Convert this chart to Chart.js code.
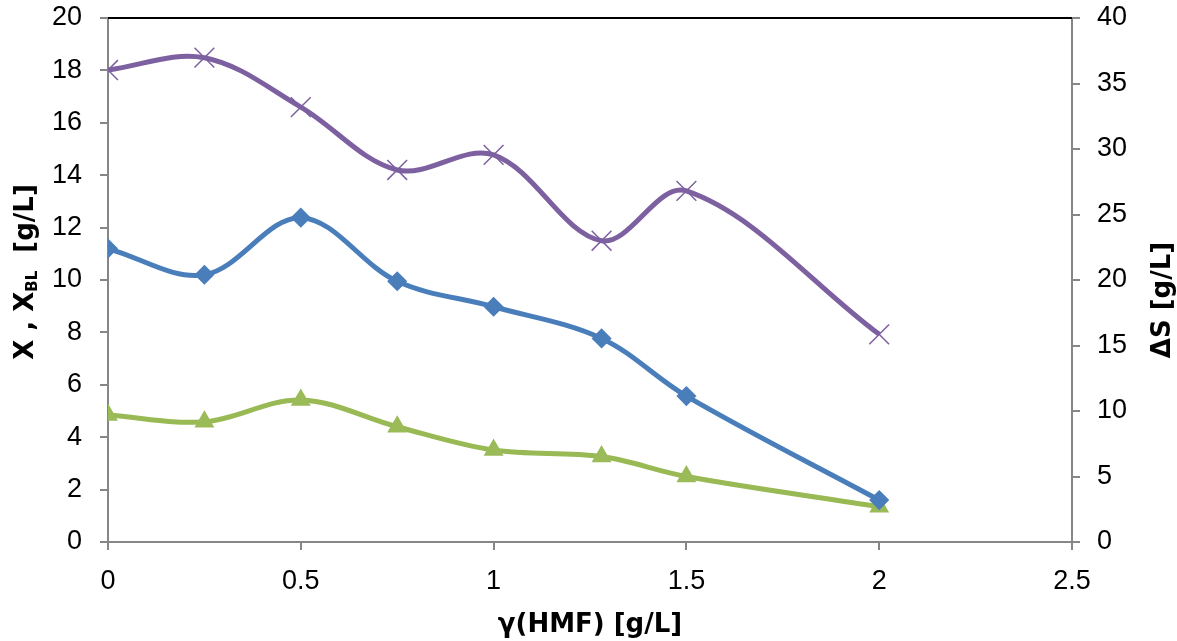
<!DOCTYPE html>
<html>
<head>
<meta charset="utf-8">
<script src="https://cdn.jsdelivr.net/npm/chart.js@4.4.1/dist/chart.umd.min.js"></script>
<style>
  html, body { margin: 0; padding: 0; background: #ffffff; }
  #wrap { width: 1177px; height: 641px; position: relative; }
</style>
</head>
<body>
<div id="wrap"><canvas id="c"></canvas></div>
<script>
// ---- data ----
const hmf = [0, 0.25, 0.5, 0.75, 1, 1.28, 1.5, 2];
const X = [11.2, 10.2, 12.38, 9.95, 8.98, 7.77, 5.57, 1.6];
const XBL = [4.85, 4.59, 5.42, 4.4, 3.51, 3.26, 2.5, 1.35];
const dS = [36.03, 36.97, 33.2, 28.4, 29.55, 23.0, 26.8, 15.85];
const leftTicks = [0, 2, 4, 6, 8, 10, 12, 14, 16, 18, 20];
const rightTicks = [0, 5, 10, 15, 20, 25, 30, 35, 40];
const xTicks = [0, 0.5, 1, 1.5, 2, 2.5];

const toPts = (ys) => hmf.map((x, i) => ({ x: x, y: ys[i] }));

const AXIS = '#868686';
const tickFont = { family: '"Liberation Sans", Arial, sans-serif', size: 27 };
const titleFamily = '"DejaVu Sans", Verdana, sans-serif';

const titlesPlugin = {
  id: 'titles',
  afterDraw(chart) {
    const ctx = chart.ctx;
    const area = chart.chartArea;
    // top border
    ctx.save();
    ctx.strokeStyle = '#000000';
    ctx.lineWidth = 2;
    ctx.beginPath();
    ctx.moveTo(area.left, area.top);
    ctx.lineTo(area.right, area.top);
    ctx.stroke();
    ctx.restore();

    const big = 'bold 26px ' + titleFamily;
    const small = 'bold 15px ' + titleFamily;
    // left title with subscript
    ctx.save();
    ctx.fillStyle = '#000000';
    ctx.textBaseline = 'middle';
    ctx.textAlign = 'left';
    const parts = [
      { t: 'X , X', f: big, dy: 0 },
      { t: 'BL', f: small, dy: 7 },
      { t: '  [g/L]', f: big, dy: 0 }
    ];
    let total = 0;
    parts.forEach(p => { ctx.font = p.f; p.w = ctx.measureText(p.t).width; total += p.w; });
    ctx.translate(26, 272);
    ctx.rotate(-Math.PI / 2);
    let x = -total / 2;
    parts.forEach(p => { ctx.font = p.f; ctx.fillText(p.t, x, p.dy); x += p.w; });
    ctx.restore();

    // right title
    ctx.save();
    ctx.fillStyle = '#000000';
    ctx.textBaseline = 'middle';
    ctx.textAlign = 'center';
    ctx.font = big;
    ctx.translate(1163, 300);
    ctx.rotate(-Math.PI / 2);
    ctx.fillText('\u0394S [g/L]', 0, 0);
    ctx.restore();
  }
};

const fitV = (w) => (s) => { s.width = w; s.paddingTop = 0; s.paddingBottom = 0; };

new Chart(document.getElementById('c'), {
  type: 'line',
  data: {
    datasets: [
      {
        label: 'X',
        data: toPts(X),
        yAxisID: 'y',
        borderColor: '#4A7EBB',
        backgroundColor: '#4A7EBB',
        borderWidth: 5,
        tension: 0.35,
        pointStyle: 'rectRot',
        pointRadius: 9,
        pointBorderWidth: 1.5,
        pointBackgroundColor: '#4A7EBB',
        pointBorderColor: '#4A7EBB'
      },
      {
        label: 'XBL',
        data: toPts(XBL),
        yAxisID: 'y',
        borderColor: '#98B954',
        backgroundColor: '#9BBB59',
        borderWidth: 5,
        tension: 0.35,
        pointStyle: 'triangle',
        pointRadius: 10,
        pointBorderWidth: 1.5,
        pointBackgroundColor: '#9BBB59',
        pointBorderColor: '#9BBB59'
      },
      {
        label: 'ΔS',
        data: toPts(dS),
        yAxisID: 'y1',
        borderColor: '#7D60A0',
        backgroundColor: '#7D60A0',
        borderWidth: 5,
        tension: 0.35,
        pointStyle: 'crossRot',
        pointRadius: 14,
        pointBorderWidth: 1.5,
        pointBackgroundColor: '#7D60A0',
        pointBorderColor: '#7D60A0'
      }
    ]
  },
  options: {
    responsive: true,
    maintainAspectRatio: false,
    animation: false,
    devicePixelRatio: 1,
    layout: { padding: { top: 18, left: 0, right: 0, bottom: 0 } },
    plugins: { legend: { display: false }, tooltip: { enabled: false } },
    scales: {
      x: {
        type: 'linear',
        min: 0, max: 2.5,
        afterBuildTicks: (s) => { s.ticks = xTicks.map(v => ({ value: v })); },
        ticks: { font: tickFont, color: '#000000', padding: 15, maxRotation: 0, autoSkip: false,
          callback: (v) => String(v) },
        grid: { drawOnChartArea: false, drawTicks: true, tickLength: 8, color: AXIS, lineWidth: 2 },
        border: { color: AXIS, width: 2 },
        title: { display: true, text: 'γ(HMF) [g/L]', color: '#000000',
          font: { family: titleFamily, size: 26, weight: 'bold' }, padding: { top: 0, bottom: 0 } },
        afterFit: (s) => { s.height = 99; s.paddingLeft = 0; s.paddingRight = 0; }
      },
      y: {
        type: 'linear',
        position: 'left',
        min: 0, max: 20,
        afterBuildTicks: (s) => { s.ticks = leftTicks.map(v => ({ value: v })); },
        ticks: { font: tickFont, color: '#000000', padding: 18, autoSkip: false, callback: (v) => String(v) },
        grid: { drawOnChartArea: false, drawTicks: true, tickLength: 8, color: AXIS, lineWidth: 2 },
        border: { color: AXIS, width: 2 },
        afterFit: fitV(108)
      },
      y1: {
        type: 'linear',
        position: 'right',
        min: 0, max: 40,
        afterBuildTicks: (s) => { s.ticks = rightTicks.map(v => ({ value: v })); },
        ticks: { font: tickFont, color: '#000000', padding: 17, autoSkip: false, callback: (v) => String(v) },
        grid: { drawOnChartArea: false, drawTicks: true, tickLength: 8, color: AXIS, lineWidth: 2 },
        border: { color: AXIS, width: 2 },
        afterFit: fitV(105)
      }
    }
  },
  plugins: [titlesPlugin]
});
</script>
</body>
</html>
